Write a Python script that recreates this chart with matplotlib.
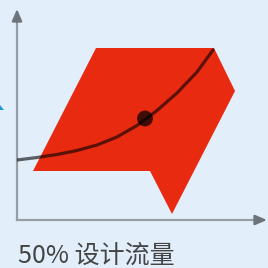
import matplotlib
matplotlib.use("Agg")
import matplotlib.pyplot as plt
from matplotlib.patches import Polygon

plt.rcParams['font.family'] = ['Noto Sans CJK SC', 'DejaVu Sans']

# curve (system curve), units ~ pixels from origin
curve_x = [0, 20, 40, 60, 80, 100, 120, 140, 160, 180, 196]
curve_y = [60, 62.5, 65.5, 69.5, 75, 83, 94.5, 109.5, 127, 148, 170]

# operating point
point_x = [128]
point_y = [101.5]

# red flag shape outline
shape_x = [79, 197, 218, 155, 133, 16]
shape_y = [172, 172, 129, 6, 49, 49]

label = "50% 设计流量"

bg = "#E2EFFB"
fig = plt.figure(figsize=(2.68, 2.68), dpi=100, facecolor=bg)
ax = fig.add_axes([17 / 268, 48 / 268, 251 / 268, 220 / 268])
ax.set_facecolor(bg)
ax.set_xlim(0, 251)
ax.set_ylim(0, 220)
ax.axis("off")

ax.add_patch(Polygon(list(zip(shape_x, shape_y)), closed=True,
                     facecolor="#E82B10", edgecolor="none", zorder=2))

ax.plot(curve_x, curve_y, color="black", alpha=0.6, lw=2.3,
        solid_capstyle="round", solid_joinstyle="round", zorder=3)
ax.scatter(point_x, point_y, s=130, color="black", alpha=0.72,
           edgecolors="none", zorder=4)

# axes lines + darker arrow heads
ax.plot([0, 0], [0, 200], color="#979DA5", lw=1.6, clip_on=False, zorder=1)
ax.plot([0, 240], [0, 0], color="#979DA5", lw=1.6, clip_on=False, zorder=1)
head = dict(arrowstyle="-|>,head_length=0.7,head_width=0.3",
            color="#6E747C", lw=1.6, shrinkA=0, shrinkB=0)
ax.annotate("", xy=(0, 211), xytext=(0, 198), arrowprops=head,
            annotation_clip=False, zorder=1)
ax.annotate("", xy=(250, 0), xytext=(238, 0), arrowprops=head,
            annotation_clip=False, zorder=1)

# small blue mark cut off at left edge
ax.add_patch(Polygon([(-17, 110), (-13, 110), (-17, 115)], closed=True,
                     facecolor="#1F9AD8", edgecolor="none", clip_on=False))

fig.text(18 / 268, 1 - 263 / 268, label, fontsize=18, color="#444444",
         fontweight="light", ha="left", va="baseline")

fig.savefig("out.png", dpi=100, facecolor=bg)
